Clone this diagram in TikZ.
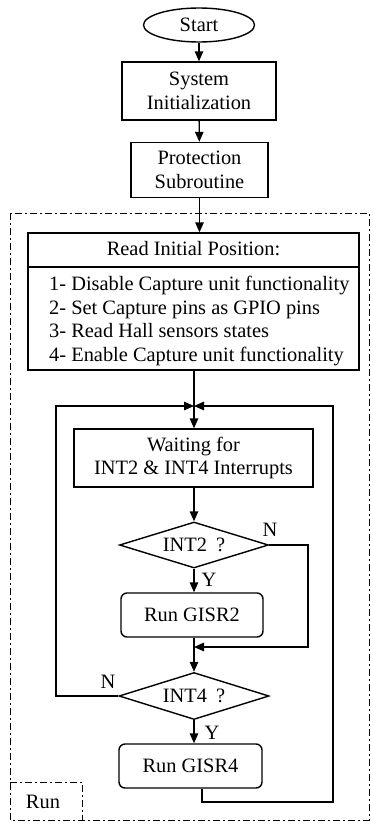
\documentclass[tikz,border=0pt]{standalone}
\usepackage{fontspec}
\setmainfont{Liberation Serif}
\usetikzlibrary{shapes.geometric,arrows.meta}
\begin{document}
\begin{tikzpicture}[x=1pt,y=-1pt,
  every node/.style={font=\fontsize{20.4}{23.5}\selectfont},
  ln/.style={line width=1.4pt},
  arr/.style={ln,-{Triangle[length=10pt,width=8.5pt]}},
  box/.style={draw,ln,rectangle,inner sep=0pt,align=center},
  rbox/.style={box,rounded corners=6pt},
  dec/.style={draw,ln,diamond,inner sep=0pt,aspect=3.2},
  lbl/.style={inner sep=0pt},
  dashdot/.style={line width=1pt,dash pattern=on 7pt off 3pt on 2pt off 3pt}]
\useasboundingbox (0,0) rectangle (371,822);
% outer frame
\draw[dashdot] (10,213) rectangle (369,820);
\draw[dashdot] (10,782) -- (82,782) -- (82,820);
\node[lbl] (run) at (43,802) {Run};
% top
\node[draw,ln,ellipse,minimum width=111pt,minimum height=34pt,inner sep=0pt] (start) at (199,25) {Start};
\node[box,minimum width=154pt,minimum height=58pt] (sys) at (199,91) {System\\Initialization};
\node[box,minimum width=137pt,minimum height=55pt] (prot) at (199.5,170) {Protection\\Subroutine};
\node[box,minimum width=331pt,minimum height=137pt] (read) at (193.5,301.5) {};
\node[lbl] (rtitle) at (193.5,249) {Read Initial Position:};
\coordinate (dl) at (28,267);
\coordinate (dr) at (359,267);
\draw[ln] (dl) -- (dr);
\node[lbl,anchor=west,align=left] (list) at (49,321) {1- Disable Capture unit functionality\\2- Set Capture pins as GPIO pins\\3- Read Hall sensors states\\4- Enable Capture unit functionality};
\draw[arr] (start) -- (sys);
\draw[arr] (sys) -- (prot);
\draw[arr] (prot.south) -- (prot.south |- read.north);
% loop
\coordinate (j) at (194,406);
\node[box,minimum width=239pt,minimum height=58pt] (wait) at (193.5,458) {Waiting for\\INT2 \& INT4 Interrupts};
\draw[ln] (read.south -| j) -- (j);
\draw[arr] (j) -- (j |- wait.north);
\node[dec,minimum width=149pt,minimum height=46pt] (int2) at (194,545) {INT2\hspace{0.45em}?};
\draw[arr] (wait.south -| int2.north) -- (int2.north);
\node[rbox,minimum width=142pt,minimum height=44pt] (g2) at (192,615) {Run GISR2};
\draw[arr] (int2.south) -- (int2.south |- g2.north);
\node[lbl] (y2) at (209,580) {Y};
\node[lbl] (n2) at (270,530) {N};
\node[dec,minimum width=150pt,minimum height=47pt] (int4) at (194,696) {INT4\hspace{0.45em}?};
\coordinate (m2) at (194,647);
\coordinate (r2) at (308,647);
\draw[arr] (g2.south -| int4.north) -- (int4.north);
\draw[arr] (int2.east) -| (r2) -- (m2);
\node[rbox,minimum width=143pt,minimum height=44pt] (g4) at (190.5,766) {Run GISR4};
\draw[arr] (int4.south) -- (int4.south |- g4.north);
\node[lbl] (y4) at (212,733) {Y};
\node[lbl] (n4) at (108,682) {N};
\coordinate (lx) at (56,406);
\draw[arr] (int4.west) -| (lx) -- (j);
\coordinate (b4) at (202,802);
\coordinate (rx) at (333,406);
\draw[arr] (g4.south -| b4) -- (b4) -| (rx) -- (j);
\end{tikzpicture}
\end{document}
